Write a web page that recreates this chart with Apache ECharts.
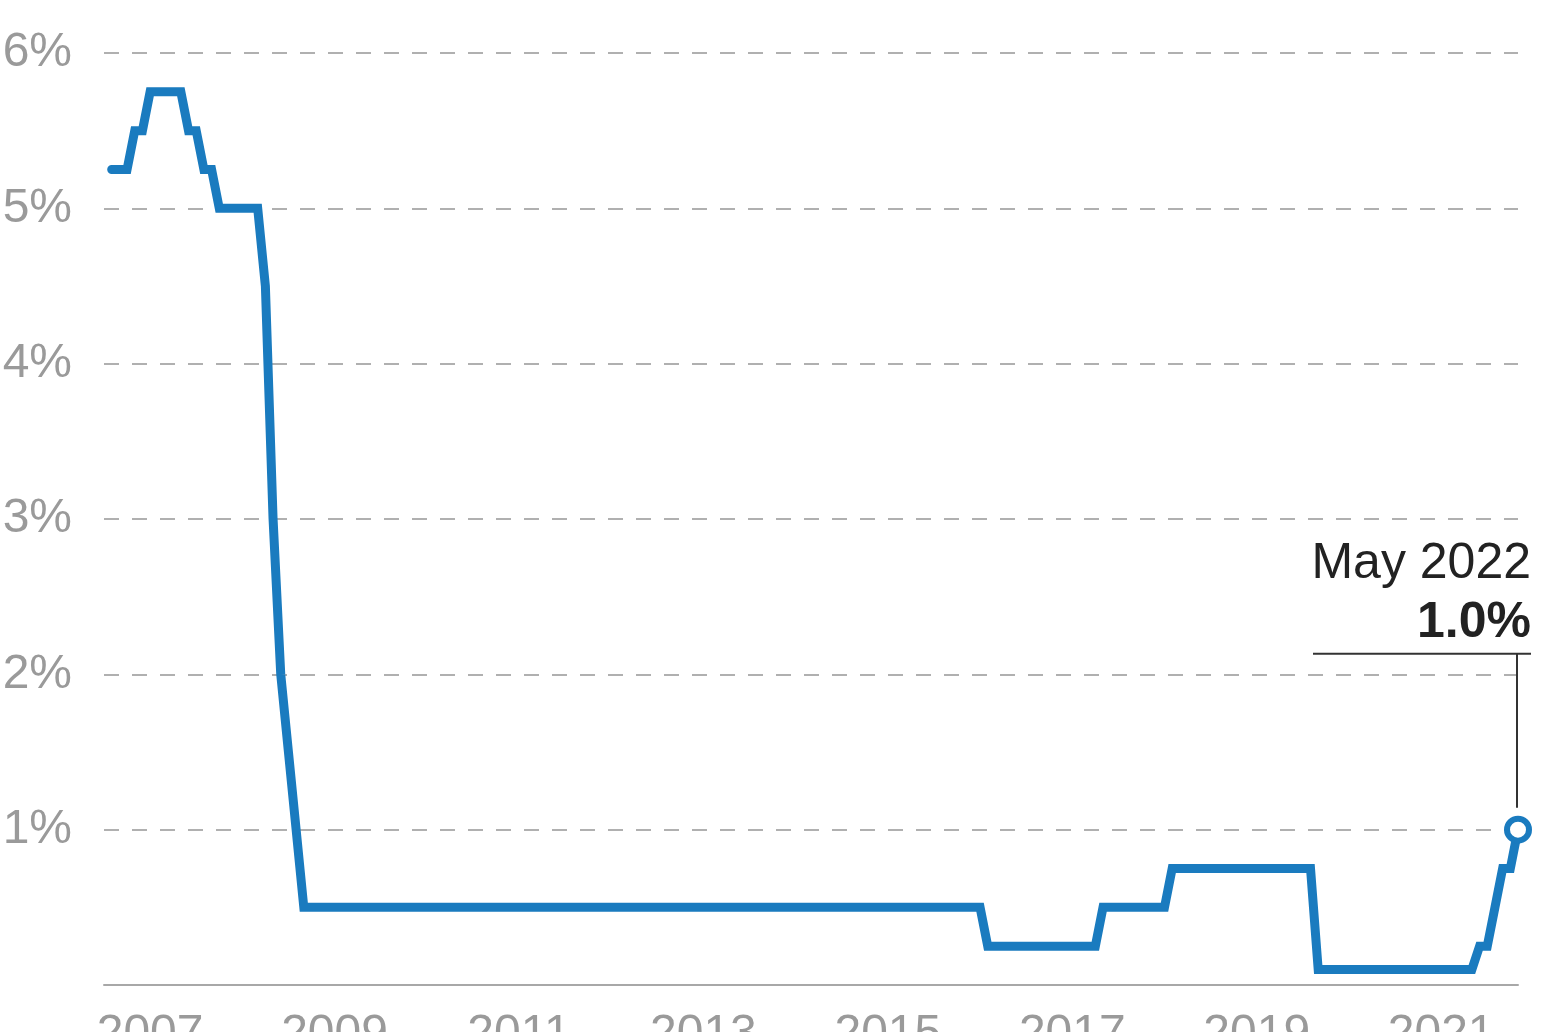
<!DOCTYPE html>
<html lang="en">

<head>
    <meta charset="UTF-8">
    <title>Bank Rate</title>
    <style>
        body { margin: 0; background: #fff; }
    </style>
</head>
<script src="https://cdn.jsdelivr.net/npm/echarts/dist/echarts.min.js"></script>

<body>

    <div id="main" style="width: 1548px;height: 1032px;"></div>

    <script type="text/javascript">
        // monthly rate, Feb 2007 .. May 2022
        var firstYear = 2007;
        var firstMonth = 2;
        var rates = [
            /* 2007 */ 5.25, 5.25, 5.25, 5.5, 5.5, 5.75, 5.75, 5.75, 5.75, 5.75, 5.5,
            /* 2008 */ 5.5, 5.25, 5.25, 5.0, 5.0, 5.0, 5.0, 5.0, 5.0, 4.5, 3.0, 2.0,
            /* 2009 */ 1.5, 1.0, 0.5, 0.5, 0.5, 0.5, 0.5, 0.5, 0.5, 0.5, 0.5, 0.5,
            /* 2010 */ 0.5, 0.5, 0.5, 0.5, 0.5, 0.5, 0.5, 0.5, 0.5, 0.5, 0.5, 0.5,
            /* 2011 */ 0.5, 0.5, 0.5, 0.5, 0.5, 0.5, 0.5, 0.5, 0.5, 0.5, 0.5, 0.5,
            /* 2012 */ 0.5, 0.5, 0.5, 0.5, 0.5, 0.5, 0.5, 0.5, 0.5, 0.5, 0.5, 0.5,
            /* 2013 */ 0.5, 0.5, 0.5, 0.5, 0.5, 0.5, 0.5, 0.5, 0.5, 0.5, 0.5, 0.5,
            /* 2014 */ 0.5, 0.5, 0.5, 0.5, 0.5, 0.5, 0.5, 0.5, 0.5, 0.5, 0.5, 0.5,
            /* 2015 */ 0.5, 0.5, 0.5, 0.5, 0.5, 0.5, 0.5, 0.5, 0.5, 0.5, 0.5, 0.5,
            /* 2016 */ 0.5, 0.5, 0.5, 0.5, 0.5, 0.5, 0.5, 0.25, 0.25, 0.25, 0.25, 0.25,
            /* 2017 */ 0.25, 0.25, 0.25, 0.25, 0.25, 0.25, 0.25, 0.25, 0.25, 0.25, 0.5, 0.5,
            /* 2018 */ 0.5, 0.5, 0.5, 0.5, 0.5, 0.5, 0.5, 0.75, 0.75, 0.75, 0.75, 0.75,
            /* 2019 */ 0.75, 0.75, 0.75, 0.75, 0.75, 0.75, 0.75, 0.75, 0.75, 0.75, 0.75, 0.75,
            /* 2020 */ 0.75, 0.75, 0.1, 0.1, 0.1, 0.1, 0.1, 0.1, 0.1, 0.1, 0.1, 0.1,
            /* 2021 */ 0.1, 0.1, 0.1, 0.1, 0.1, 0.1, 0.1, 0.1, 0.1, 0.1, 0.1, 0.25,
            /* 2022 */ 0.25, 0.5, 0.75, 0.75, 1.0
        ];
        var yearLabels = ['2007', '2009', '2011', '2013', '2015', '2017', '2019', '2021'];
        var lastLabel = 'May 2022';

        var blue = '#1a7bbf';

        // x = decimal year of each month
        var points = rates.map(function (r, i) {
            return [firstYear + (firstMonth - 1 + i) / 12, r];
        });
        var last = points[points.length - 1];

        var myChart = echarts.init(document.getElementById('main'));
        var option = {
            animation: false,
            backgroundColor: '#fff',
            textStyle: { fontFamily: 'Liberation Sans' },
            grid: { left: 104, right: 30, top: 53, bottom: 47, containLabel: false, outerBoundsMode: 'none' },
            xAxis: {
                type: 'value',
                min: firstYear,
                max: last[0],
                axisLine: { show: true, lineStyle: { color: '#a8a8a8', width: 2 } },
                axisTick: { show: false },
                splitLine: { show: false },
                axisLabel: {
                    customValues: yearLabels.map(function (y) { return +y + 0.5; }),
                    formatter: function (v) { return String(Math.floor(v)); },
                    color: '#9a9a9a',
                    fontSize: 48,
                    margin: 26
                }
            },
            yAxis: {
                type: 'value',
                min: 0,
                max: 6,
                interval: 1,
                axisLine: { show: false },
                axisTick: { show: false },
                axisLabel: {
                    formatter: function (v) { return v === 0 ? '' : v + '%'; },
                    color: '#9a9a9a',
                    fontSize: 48,
                    margin: 32
                },
                splitLine: {
                    lineStyle: { color: '#b0b0b0', width: 2, type: [15, 13] }
                }
            },
            series: [{
                type: 'line',
                data: points,
                showSymbol: false,
                clip: false,
                lineStyle: { color: blue, width: 9, cap: 'round', join: 'miter' },
                z: 3
            }, {
                type: 'scatter',
                data: [last],
                clip: false,
                symbol: 'circle',
                symbolSize: 22,
                itemStyle: { color: '#fff', borderColor: blue, borderWidth: 6, opacity: 1 },
                z: 5
            }]
        };
        myChart.setOption(option);

        // annotation for the latest value
        var p = myChart.convertToPixel({ seriesIndex: 1 }, last);
        myChart.setOption({
            graphic: [{
                type: 'line',
                shape: { x1: p[0] - 205, y1: p[1] - 176, x2: p[0] + 13, y2: p[1] - 176 },
                style: { stroke: '#333', lineWidth: 2 }
            }, {
                type: 'line',
                shape: { x1: p[0] - 1, y1: p[1] - 176, x2: p[0] - 1, y2: p[1] - 22 },
                style: { stroke: '#333', lineWidth: 2 }
            }, {
                type: 'text',
                x: p[0] + 13,
                y: p[1] - 265,
                style: {
                    text: lastLabel,
                    fill: '#222',
                    font: '50px "Liberation Sans"',
                    align: 'right',
                    verticalAlign: 'middle'
                }
            }, {
                type: 'text',
                x: p[0] + 13,
                y: p[1] - 206,
                style: {
                    text: last[1].toFixed(1) + '%',
                    fill: '#222',
                    font: 'bold 50px "Liberation Sans"',
                    align: 'right',
                    verticalAlign: 'middle'
                }
            }]
        });
    </script>
</body>

</html>
